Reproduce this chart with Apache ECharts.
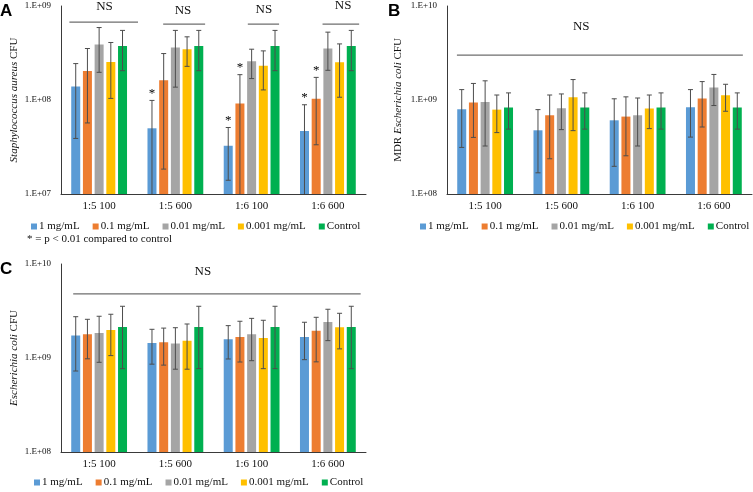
<!DOCTYPE html>
<html><head><meta charset="utf-8">
<script src="https://cdn.jsdelivr.net/npm/echarts@6/dist/echarts.min.js"></script>
<style>html,body{margin:0;padding:0;background:#fff}#c{width:753px;height:492px}</style>
</head><body><div id="c"></div>
<script>
const categories = ['1:5 100', '1:5 600', '1:6 100', '1:6 600'];
const seriesNames = ['1 mg/mL', '0.1 mg/mL', '0.01 mg/mL', '0.001 mg/mL', 'Control'];
const colors = ['#5B9BD5', '#ED7D31', '#A5A5A5', '#FFC000', '#00B050'];

// Panel A: Staphylococcus aureus CFU (mean, upper and lower error bounds), one row per series
const aMean = [
  [1.39e8, 5.0e7, 3.26e7, 4.68e7],
  [2.03e8, 1.62e8, 9.2e7, 1.03e8],
  [3.89e8, 3.62e8, 2.58e8, 3.53e8],
  [2.54e8, 3.47e8, 2.32e8, 2.52e8],
  [3.76e8, 3.76e8, 3.76e8, 3.76e8]
];
const aHigh = [
  [2.44e8, 9.9e7, 5.1e7, 8.9e7],
  [3.53e8, 3.12e8, 1.86e8, 1.74e8],
  [5.9e8, 5.5e8, 3.47e8, 5.27e8],
  [4.09e8, 4.7e8, 3.33e8, 3.95e8],
  [5.5e8, 5.5e8, 5.5e8, 5.5e8]
];
const aLow = [
  [3.9e7, 1e7, 1.4e7, 1e7],
  [5.7e7, 1.84e7, 1e7, 3.34e7],
  [1.97e8, 1.37e8, 1.69e8, 2.07e8],
  [1.04e8, 2.28e8, 1.28e8, 1.07e8],
  [2.05e8, 2.05e8, 2.05e8, 2.05e8]
];
// significance markers in panel A: [series index, category index]
const aStars = [[0, 1], [0, 2], [1, 2], [0, 3], [1, 3]];

// Panel B: MDR Escherichia coli CFU
const bMean = [
  [7.97e8, 4.76e8, 6.08e8, 8.37e8],
  [9.4e8, 6.88e8, 6.66e8, 1.04e9],
  [9.5e8, 8.17e8, 6.88e8, 1.36e9],
  [7.9e8, 1.07e9, 8.1e8, 1.12e9],
  [8.3e8, 8.3e8, 8.3e8, 8.3e8]
];
const bHigh = [
  [1.29e9, 7.9e8, 1.03e9, 1.29e9],
  [1.5e9, 1.13e9, 1.08e9, 1.57e9],
  [1.6e9, 1.16e9, 1.05e9, 1.87e9],
  [1.13e9, 1.65e9, 1.13e9, 1.47e9],
  [1.19e9, 1.19e9, 1.19e9, 1.19e9]
];
const bLow = [
  [3.13e8, 1.68e8, 1.97e8, 4.03e8],
  [4.0e8, 2.37e8, 2.55e8, 5.16e8],
  [3.24e8, 4.84e8, 3.24e8, 8.73e8],
  [4.5e8, 4.72e8, 4.96e8, 7.59e8],
  [4.9e8, 4.9e8, 4.9e8, 4.9e8]
];

// Panel C: Escherichia coli CFU
const cMean = [
  [1.73e9, 1.44e9, 1.58e9, 1.67e9],
  [1.79e9, 1.47e9, 1.67e9, 1.95e9],
  [1.84e9, 1.43e9, 1.79e9, 2.42e9],
  [1.99e9, 1.53e9, 1.63e9, 2.12e9],
  [2.14e9, 2.14e9, 2.14e9, 2.14e9]
];
const cHigh = [
  [2.75e9, 2.02e9, 2.21e9, 2.4e9],
  [2.58e9, 2.08e9, 2.46e9, 2.71e9],
  [2.78e9, 2.1e9, 2.64e9, 3.3e9],
  [2.92e9, 2.3e9, 2.52e9, 2.99e9],
  [3.55e9, 3.55e9, 3.55e9, 3.55e9]
];
const cLow = [
  [7.27e8, 8.6e8, 9.76e8, 9.6e8],
  [9.8e8, 8.4e8, 9.06e8, 9.1e8],
  [9.0e8, 7.6e8, 9.36e8, 1.53e9],
  [1.06e9, 7.6e8, 7.7e8, 1.25e9],
  [7.7e8, 7.7e8, 7.7e8, 7.7e8]
];

// axis ranges
const yRanges = [[1e7, 1e9], [1e8, 1e10], [1e8, 1e10]];
const yTitles = [
  '{i|Staphylococcus aureus} CFU',
  'MDR {i|Escherichia coli} CFU',
  '{i|Escherichia coli} CFU'
];

// "NS" annotations: [category index, line value, line start offset, line end offset (bands), text offset (bands), text value]
const nsA = [
  [0, 6.75e8, -0.39, 0.51, 0.07, 9.75e8],
  [1, 6.43e8, -0.16, 0.39, 0.10, 8.85e8],
  [2, 6.43e8, -0.05, 0.36, 0.16, 9.1e8],
  [3, 6.43e8, -0.07, 0.41, 0.20, 1.02e9]
];
const nsB = [[0, 3.0e9, -0.37, 3.38, 1.26, 6.1e9]];
const nsC = [[0, 4.8e9, -0.34, 3.43, 1.36, 8.3e9]];

const SERIF = 'Liberation Serif';
const SANS = 'Liberation Sans';
const BAR_W = 9;
const BAR_GAP = 0.3;
const BAR_STEP = BAR_W * (1 + BAR_GAP);
const ERR_COLOR = '#4d4d4d';
const AXIS_COLOR = '#3a3a3a';

const grids = [
  {left: 61, top: 6, width: 305, height: 188},
  {left: 447, top: 6, width: 305, height: 188},
  {left: 61, top: 264, width: 305, height: 188}
];

function fmtExp(v) {
  const e = Math.round(Math.log10(v));
  return '1.E+' + String(e).padStart(2, '0');
}

function barSeries(gi, means) {
  return means.map((vals, s) => ({
    type: 'bar', name: seriesNames[s], xAxisIndex: gi, yAxisIndex: gi,
    data: vals, barWidth: BAR_W, barGap: (BAR_GAP * 100) + '%',
    itemStyle: {color: colors[s]}, silent: true
  }));
}

function errorSeries(gi, lows, highs, stars) {
  const data = [];
  for (let s = 0; s < lows.length; s++) {
    for (let c = 0; c < categories.length; c++) {
      const star = stars.some(st => st[0] === s && st[1] === c) ? 1 : 0;
      data.push([c, lows[s][c], highs[s][c], s, star]);
    }
  }
  return {
    type: 'custom', xAxisIndex: gi, yAxisIndex: gi, data, z: 10, silent: true,
    encode: {x: 0, y: [1, 2]},
    renderItem(params, api) {
      const c = api.value(0), s = api.value(3);
      const lo = api.coord([c, api.value(1)]);
      const hi = api.coord([c, api.value(2)]);
      const bottom = params.coordSys.y + params.coordSys.height;
      const x = lo[0] + (s - 2) * BAR_STEP;
      const yb = Math.min(lo[1], bottom);
      const cap = 2.5;
      const st = {stroke: ERR_COLOR, lineWidth: 1};
      const ch = [
        {type: 'line', shape: {x1: x, y1: hi[1], x2: x, y2: yb}, style: st},
        {type: 'line', shape: {x1: x - cap, y1: hi[1], x2: x + cap, y2: hi[1]}, style: st}
      ];
      if (yb < bottom - 1) ch.push({type: 'line', shape: {x1: x - cap, y1: yb, x2: x + cap, y2: yb}, style: st});
      if (api.value(4)) {
        ch.push({type: 'text', style: {text: '*', x: x, y: hi[1] - 7, align: 'center', verticalAlign: 'middle',
          font: '13px "' + SERIF + '"', fill: '#000'}});
      }
      return {type: 'group', children: ch};
    }
  };
}

function nsSeries(gi, ns) {
  return {
    type: 'custom', xAxisIndex: gi, yAxisIndex: gi, data: ns, z: 12, silent: true,
    encode: {x: 0, y: 1},
    renderItem(params, api) {
      const band = params.coordSys.width / categories.length;
      const p = api.coord([api.value(0), api.value(1)]);
      const t = api.coord([api.value(0), api.value(5)]);
      return {type: 'group', children: [
        {type: 'line', shape: {x1: p[0] + api.value(2) * band, y1: p[1], x2: p[0] + api.value(3) * band, y2: p[1]},
          style: {stroke: '#6e6e6e', lineWidth: 1.2}},
        {type: 'text', style: {text: 'NS', x: p[0] + api.value(4) * band, y: t[1], align: 'center', verticalAlign: 'middle',
          font: '13px "' + SERIF + '"', fill: '#111'}}
      ]};
    }
  };
}

const nameGaps = [41, 43, 41];

const option = {
  animation: false,
  backgroundColor: '#fff',
  title: [
    {text: 'A', left: 0, top: 3, padding: 0, textStyle: {fontFamily: SANS, fontWeight: 'bold', fontSize: 17, color: '#000'}},
    {text: 'B', left: 388, top: 3, padding: 0, textStyle: {fontFamily: SANS, fontWeight: 'bold', fontSize: 17, color: '#000'}},
    {text: 'C', left: 0, top: 261, padding: 0, textStyle: {fontFamily: SANS, fontWeight: 'bold', fontSize: 17, color: '#000'}},
    {text: '* = p < 0.01 compared to control', left: 27, top: 234, padding: 0,
      textStyle: {fontFamily: SERIF, fontWeight: 'normal', fontSize: 11, color: '#111'}}
  ],
  legend: [
    {left: 31, top: 221}, {left: 420, top: 221}, {left: 34, top: 477}
  ].map(p => Object.assign({
    data: seriesNames, icon: 'rect', itemWidth: 6, itemHeight: 6, itemGap: 13, padding: 0,
    selectedMode: false,
    textStyle: {fontFamily: SERIF, fontSize: 11, color: '#111', padding: [0, 0, 0, -3]}
  }, p)),
  grid: grids.map(g => Object.assign({outerBoundsMode: 'none', containLabel: false}, g)),
  xAxis: grids.map((g, i) => ({
    type: 'category', gridIndex: i, data: categories,
    axisLine: {show: true, lineStyle: {color: AXIS_COLOR, width: 1}},
    axisTick: {show: false},
    axisLabel: {fontFamily: SERIF, fontSize: 11, color: '#111', margin: 7},
    splitLine: {show: false}
  })),
  yAxis: grids.map((g, i) => ({
    type: 'log', logBase: 10, gridIndex: i, min: yRanges[i][0], max: yRanges[i][1],
    axisLine: {show: true, lineStyle: {color: AXIS_COLOR, width: 1}},
    axisTick: {show: false},
    splitLine: {show: false},
    axisLabel: {fontFamily: SERIF, fontSize: 9, color: '#111', margin: 10, formatter: fmtExp},
    name: yTitles[i], nameLocation: 'middle', nameGap: nameGaps[i], nameRotate: 90,
    nameTextStyle: {fontFamily: SERIF, fontSize: 11, color: '#111',
      rich: {i: {fontFamily: SERIF, fontSize: 11, fontStyle: 'italic', color: '#111'}}}
  })),
  series: [].concat(
    barSeries(0, aMean), barSeries(1, bMean), barSeries(2, cMean),
    [errorSeries(0, aLow, aHigh, aStars), errorSeries(1, bLow, bHigh, []), errorSeries(2, cLow, cHigh, [])],
    [nsSeries(0, nsA), nsSeries(1, nsB), nsSeries(2, nsC)]
  )
};

const chart = echarts.init(document.getElementById('c'), null, {renderer: 'canvas'});
chart.setOption(option);
</script>
</body></html>
